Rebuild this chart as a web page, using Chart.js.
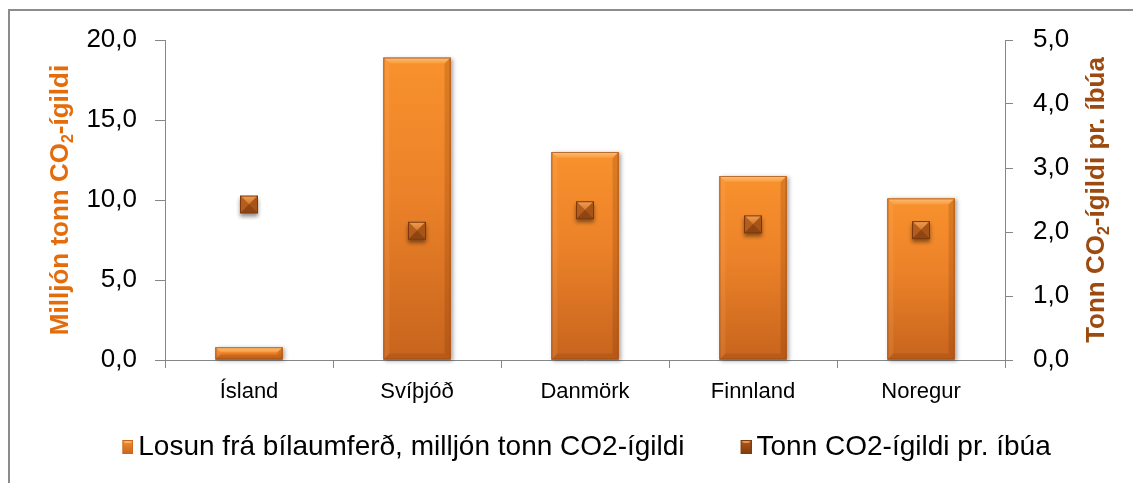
<!DOCTYPE html>
<html>
<head>
<meta charset="utf-8">
<script src="https://cdn.jsdelivr.net/npm/chart.js@4.4.1/dist/chart.umd.min.js"></script>
<style>
  html, body { margin: 0; padding: 0; background: #fff; }
  #wrap { width: 1133px; height: 483px; position: relative; }
</style>
</head>
<body>
<div id="wrap"><canvas id="c"></canvas></div>
<script>
// Road-traffic CO2 emissions in the Nordic countries
const countries = ['Ísland', 'Svíþjóð', 'Danmörk', 'Finnland', 'Noregur'];
const emissionsMt = [0.8, 18.9, 13.0, 11.5, 10.1];      // million tonnes CO2-eq
const perCapitaT = [2.43, 2.02, 2.34, 2.12, 2.03];      // tonnes CO2-eq per inhabitant
const leftTicks = [0, 5, 10, 15, 20];
const rightTicks = [0, 1, 2, 3, 4, 5];
const seriesNames = ['Losun frá bílaumferð, milljón tonn CO2-ígildi', 'Tonn CO2-ígildi pr. íbúa'];
const leftTitleParts = ['Milljón tonn CO', '2', '-ígildi'];
const rightTitleParts = ['Tonn CO', '2', '-ígildi pr. íbúa'];

const FONT = '"Liberation Sans", Arial, sans-serif';
const AXIS_GREY = '#868686';

// Bevelled square "pyramid" marker for the per-capita series
function makeMarker() {
  const c = document.createElement('canvas');
  c.width = 32; c.height = 32;
  const g = c.getContext('2d');
  const x0 = 7, y0 = 7, s = 18, x1 = x0 + s, y1 = y0 + s, cx = x0 + s / 2, cy = y0 + s / 2;
  g.save();
  g.shadowColor = 'rgba(0,0,0,0.45)';
  g.shadowBlur = 4;
  g.shadowOffsetY = 3;
  g.fillStyle = '#9a4a13';
  g.fillRect(x0, y0, s, s);
  g.restore();
  const face = (pts, col) => {
    g.beginPath();
    g.moveTo(pts[0][0], pts[0][1]);
    for (let i = 1; i < pts.length; i++) g.lineTo(pts[i][0], pts[i][1]);
    g.closePath();
    g.fillStyle = col;
    g.fill();
  };
  const tg = g.createLinearGradient(0, y0, 0, cy);
  tg.addColorStop(0, '#f0a055');
  tg.addColorStop(1, '#d9782c');
  face([[x0, y0], [x1, y0], [cx, cy]], tg);
  face([[x0, y0], [cx, cy], [x0, y1]], '#b45d1d');
  face([[x1, y0], [x1, y1], [cx, cy]], '#a85416');
  face([[x0, y1], [cx, cy], [x1, y1]], '#8e4512');
  g.strokeStyle = '#7a380c';
  g.lineWidth = 1;
  g.strokeRect(x0 + 0.5, y0 + 0.5, s - 1, s - 1);
  return c;
}

// Legend swatch: an 11x14 box drawn at the right end of a wider transparent canvas,
// so that it sits just before its label text
function makeSwatch(light, mid, dark) {
  const c = document.createElement('canvas');
  c.width = 66; c.height = 16;
  const g = c.getContext('2d');
  const x0 = 55, y0 = 1, w = 11, h = 14;
  const grad = g.createLinearGradient(0, y0, 0, y0 + h);
  grad.addColorStop(0, mid);
  grad.addColorStop(1, dark);
  g.fillStyle = grad;
  g.fillRect(x0, y0, w, h);
  g.beginPath();
  g.moveTo(x0, y0); g.lineTo(x0 + w, y0); g.lineTo(x0 + w - 3, y0 + 3); g.lineTo(x0 + 3, y0 + 3);
  g.closePath();
  g.fillStyle = light;
  g.fill();
  g.strokeStyle = dark;
  g.lineWidth = 1;
  g.strokeRect(x0 + 0.5, y0 + 0.5, w - 1, h - 1);
  return c;
}

const markerImg = makeMarker();
const swatches = [
  makeSwatch('#fbb466', '#f4902f', '#c9661e'),
  makeSwatch('#e89548', '#b35a19', '#7f3c0e')
];

// Gradient body, bevel and soft shadow for the bars
const barBevel = {
  id: 'barBevel',
  beforeDatasetDraw(chart, args) {
    if (args.meta.type !== 'bar') return;
    const ctx = chart.ctx;
    ctx.save();
    ctx.shadowColor = 'rgba(0,0,0,0.35)';
    ctx.shadowBlur = 4;
    ctx.shadowOffsetX = 2;
    ctx.shadowOffsetY = 1;
    ctx.fillStyle = '#c8661f';
    args.meta.data.forEach(el => {
      const p = el.getProps(['x', 'y', 'base', 'width'], true);
      ctx.fillRect(p.x - p.width / 2, p.y, p.width, p.base - p.y);
    });
    ctx.restore();
  },
  afterDatasetDraw(chart, args) {
    if (args.meta.type !== 'bar') return;
    const ctx = chart.ctx;
    ctx.save();
    args.meta.data.forEach(el => {
      const p = el.getProps(['x', 'y', 'base', 'width'], true);
      const L = p.x - p.width / 2, R = p.x + p.width / 2, T = p.y, B = p.base;
      const h = B - T;
      const b = Math.min(6, h / 2.4);
      const body = ctx.createLinearGradient(0, T, 0, B);
      body.addColorStop(0, '#f8912d');
      body.addColorStop(0.45, '#ec8229');
      body.addColorStop(1, '#c7641d');
      ctx.fillStyle = body;
      ctx.fillRect(L, T, R - L, h);
      const poly = (pts, col) => {
        ctx.beginPath();
        ctx.moveTo(pts[0][0], pts[0][1]);
        for (let i = 1; i < pts.length; i++) ctx.lineTo(pts[i][0], pts[i][1]);
        ctx.closePath();
        ctx.fillStyle = col;
        ctx.fill();
      };
      const topG = ctx.createLinearGradient(0, T, 0, T + b);
      topG.addColorStop(0, '#fcc07a');
      topG.addColorStop(1, '#f89a3a');
      poly([[L, T], [R, T], [R - b, T + b], [L + b, T + b]], topG);
      poly([[L, T], [L + b, T + b], [L + b, B - b], [L, B]], 'rgba(255,190,120,0.15)');
      poly([[R, T], [R, B], [R - b, B - b], [R - b, T + b]], 'rgba(110,45,0,0.2)');
      poly([[L, B], [R, B], [R - b, B - b], [L + b, B - b]], 'rgba(110,45,0,0.16)');
      ctx.strokeStyle = 'rgba(160,75,20,0.7)';
      ctx.lineWidth = 1;
      ctx.strokeRect(L + 0.5, T + 0.5, R - L - 1, h - 1);
    });
    ctx.restore();
  }
};

// Rotated axis titles with a subscript "2"
function drawTitle(ctx, parts, cx, cy, color, size) {
  const main = `bold ${size}px ${FONT}`;
  const sub = `bold ${Math.round(size * 0.62)}px ${FONT}`;
  ctx.save();
  ctx.translate(cx, cy);
  ctx.rotate(-Math.PI / 2);
  ctx.fillStyle = color;
  ctx.textAlign = 'left';
  ctx.textBaseline = 'middle';
  ctx.font = main;
  const w0 = ctx.measureText(parts[0]).width;
  const w2 = ctx.measureText(parts[2]).width;
  ctx.font = sub;
  const w1 = ctx.measureText(parts[1]).width;
  let x = -(w0 + w1 + w2) / 2;
  ctx.font = main; ctx.fillText(parts[0], x, 0); x += w0;
  ctx.font = sub; ctx.fillText(parts[1], x, size * 0.3); x += w1;
  ctx.font = main; ctx.fillText(parts[2], x, 0);
  ctx.restore();
}

const frameAndTitles = {
  id: 'frameAndTitles',
  beforeDraw(chart) {
    const ctx = chart.ctx;
    ctx.save();
    ctx.strokeStyle = '#8c8c8c';
    ctx.lineWidth = 2;
    ctx.strokeRect(9, 10, chart.width + 20, chart.height + 20);
    ctx.restore();
  },
  afterDraw(chart) {
    const ca = chart.chartArea;
    const cy = (ca.top + ca.bottom) / 2;
    drawTitle(chart.ctx, leftTitleParts, 61, cy, '#e46c0a', 26);
    drawTitle(chart.ctx, rightTitleParts, 1097, cy, '#9c4a0f', 26);
  }
};

const fmt = v => Number(v).toFixed(1).replace('.', ',');

new Chart(document.getElementById('c'), {
  data: {
    labels: countries,
    datasets: [
      {
        type: 'bar',
        label: seriesNames[0],
        data: emissionsMt,
        yAxisID: 'y',
        backgroundColor: '#e57e27',
        borderWidth: 0,
        categoryPercentage: 1,
        barPercentage: 0.4,
        order: 2
      },
      {
        type: 'line',
        label: seriesNames[1],
        data: perCapitaT,
        yAxisID: 'y1',
        showLine: false,
        pointStyle: markerImg,
        pointRadius: 9,
        pointHoverRadius: 9,
        order: 1
      }
    ]
  },
  options: {
    responsive: true,
    maintainAspectRatio: false,
    animation: false,
    layout: { padding: { top: 40, left: 0, right: 6, bottom: 12 } },
    plugins: {
      tooltip: { enabled: false },
      legend: {
        position: 'bottom',
        labels: {
          usePointStyle: true,
          pointStyleWidth: 48,
          padding: 10,
          color: '#000',
          font: { family: FONT, size: 28 },
          sort: (a, b) => a.datasetIndex - b.datasetIndex,
          generateLabels(chart) {
            const items = Chart.defaults.plugins.legend.labels.generateLabels(chart);
            items.forEach(it => { it.pointStyle = swatches[it.datasetIndex]; });
            return items;
          }
        }
      }
    },
    scales: {
      x: {
        type: 'category',
        offset: true,
        grid: { offset: true, drawOnChartArea: false, drawTicks: true, tickLength: 8, color: AXIS_GREY },
        border: { color: AXIS_GREY, width: 1 },
        ticks: { color: '#000', padding: 11, font: { family: FONT, size: 22 }, maxRotation: 0 },
        afterFit(s) { s.height = 63; }
      },
      y: {
        position: 'left',
        min: 0, max: 20,
        grid: { drawOnChartArea: false, tickLength: 10, color: AXIS_GREY },
        border: { color: AXIS_GREY, width: 1 },
        ticks: { color: '#000', padding: 18, font: { family: FONT, size: 26 }, callback: fmt },
        afterBuildTicks(s) { s.ticks = leftTicks.map(v => ({ value: v })); },
        afterFit(s) { s.width = 165; }
      },
      y1: {
        position: 'right',
        min: 0, max: 5,
        grid: { drawOnChartArea: false, tickLength: 8, color: AXIS_GREY },
        border: { color: AXIS_GREY, width: 1 },
        ticks: { color: '#000', padding: 20, font: { family: FONT, size: 26 }, callback: fmt },
        afterBuildTicks(s) { s.ticks = rightTicks.map(v => ({ value: v })); },
        afterFit(s) { s.width = 122; }
      }
    }
  },
  plugins: [barBevel, frameAndTitles]
});
</script>
</body>
</html>
